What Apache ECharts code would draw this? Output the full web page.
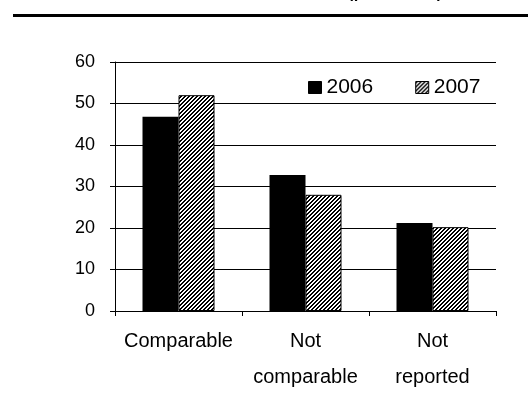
<!DOCTYPE html>
<html>
<head>
<meta charset="utf-8">
<script src="https://cdn.jsdelivr.net/npm/echarts@6/dist/echarts.min.js"></script>
<style>
  html, body { margin: 0; padding: 0; background: #fff; }
  #chart { width: 528px; height: 414px; }
</style>
</head>
<body>
<div id="chart"></div>
<script>
// Share of items by status, 2006 vs 2007 (percent)
const categories = ['Comparable', 'Not\ncomparable', 'Not\nreported'];
const seriesNames = ['2006', '2007'];
const values2006 = [46.8, 32.8, 21.2];
const values2007 = [52, 28, 20.2];
const yTicks = { min: 0, max: 60, interval: 10 };

const FONT = '"Liberation Sans", Arial, sans-serif';

// Diagonal black/white stripe tile for the 2007 bars
function stripeTile() {
  const c = document.createElement('canvas');
  c.width = 4; c.height = 4;
  const ctx = c.getContext('2d');
  ctx.fillStyle = '#fff';
  ctx.fillRect(0, 0, 4, 4);
  ctx.fillStyle = '#000';
  for (let x = 0; x < 4; x++) {
    for (let y = 0; y < 4; y++) {
      if ((x + y) % 4 < 2) ctx.fillRect(x, y, 1, 1);
    }
  }
  return c;
}
const hatch = { image: stripeTile(), repeat: 'repeat' };

const chart = echarts.init(document.getElementById('chart'), null, { renderer: 'canvas' });
chart.setOption({
  animation: false,
  backgroundColor: '#fff',
  graphic: [
    { type: 'rect', left: 13, top: 14, shape: { width: 515, height: 3 }, style: { fill: '#000' }, silent: true },
    { type: 'text', x: 345, y: -23, style: { text: '(percent)', font: '25px ' + FONT, fill: '#000' }, silent: true }
  ],
  legend: {
    left: 308,
    top: 77,
    padding: 0,
    icon: 'rect',
    itemWidth: 13,
    itemHeight: 12,
    itemGap: 42,
    textStyle: { fontFamily: FONT, fontSize: 21, color: '#000' },
    itemStyle: { borderColor: '#000', borderWidth: 1 },
    data: seriesNames
  },
  grid: { left: 115, right: 32, top: 62, bottom: 103, containLabel: false },
  xAxis: {
    type: 'category',
    data: categories,
    axisLine: { lineStyle: { color: '#000', width: 1 } },
    axisTick: { show: true, length: 5, lineStyle: { color: '#000' } },
    axisLabel: { fontFamily: FONT, fontSize: 20, color: '#000', margin: 12, lineHeight: 36, interval: 0 }
  },
  yAxis: {
    type: 'value',
    min: yTicks.min,
    max: yTicks.max,
    interval: yTicks.interval,
    axisLine: { show: true, lineStyle: { color: '#000', width: 1 } },
    axisTick: { show: true, length: 5, lineStyle: { color: '#000' } },
    axisLabel: { fontFamily: FONT, fontSize: 18, color: '#000', margin: 20 },
    splitLine: { show: true, lineStyle: { color: '#000', width: 1 } }
  },
  series: [
    {
      name: seriesNames[0],
      type: 'bar',
      data: values2006,
      barWidth: 36,
      barGap: '0%',
      itemStyle: { color: '#000' }
    },
    {
      name: seriesNames[1],
      type: 'bar',
      data: values2007,
      barWidth: 36,
      barGap: '0%',
      itemStyle: { color: hatch, borderColor: '#000', borderWidth: 1 }
    }
  ]
});
</script>
</body>
</html>
